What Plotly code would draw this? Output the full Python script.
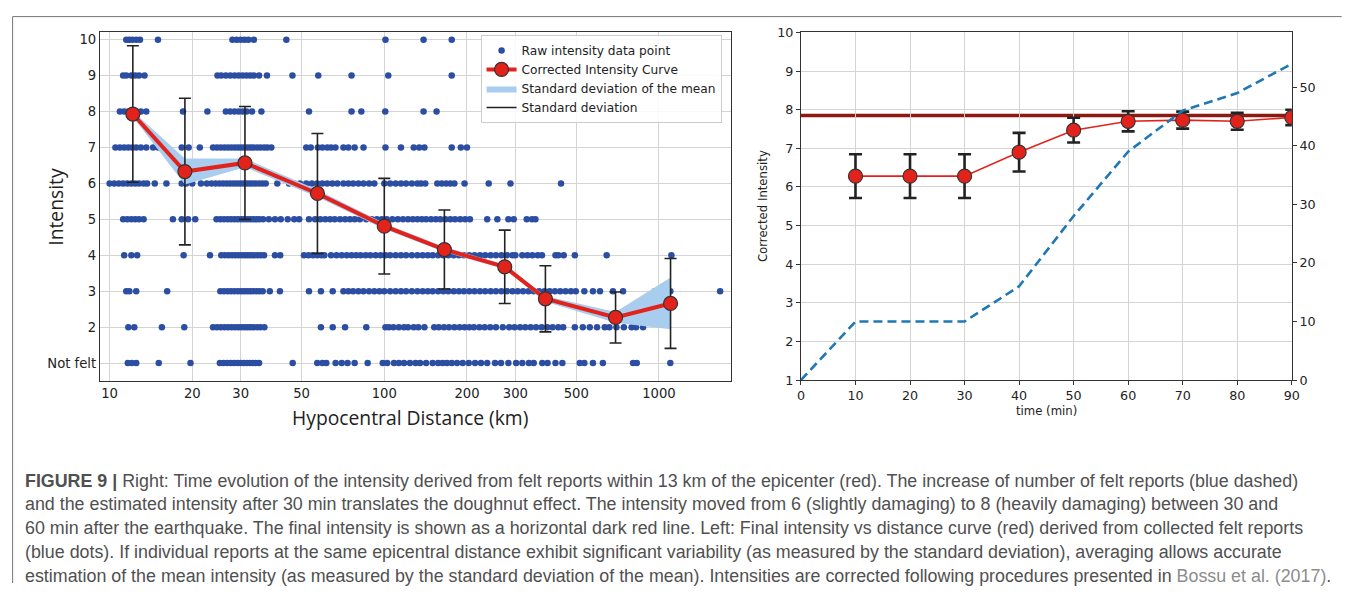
import numpy as np
import plotly.graph_objects as go

# figure size (the page keeps the browser's default 8px body margin)
PAGE_W, PAGE_H = 1357, 598
W, H = PAGE_W - 16, PAGE_H - 16
# measured placement of the rendered figure inside the photographed window
FIG_X0, FIG_SX = 9.0, 0.992
FIG_Y0, FIG_SY = 14.5, 0.978

# ---------------- Left panel data ----------------
# raw felt reports: hypocentral distance (km) per intensity level
d10 = [11.5, 11.8, 12.1, 12.5, 12.9, 15.0, 28, 29, 30, 31, 32, 33.5, 44, 101, 139, 176]
d9 = [11.2, 11.5, 12.0, 12.4, 12.8, 13.4, 24.7, 25.5, 26.5, 27.5, 28.5, 29.5, 30.5, 31.5, 32.5,
      33.5, 35, 37.4, 46.3, 57.5, 76, 103.4, 176]
d8 = [10.9, 11.3, 11.7, 12.1, 12.5, 13.0, 13.6, 18.5, 22.7, 26.5, 27.5, 28.5, 29.5, 30.5, 31.5,
      33, 35.7, 53.2, 76, 82.5, 100.8, 139, 155]
d7 = [10.5, 10.9, 11.3, 11.7, 12.1, 12.5, 13.0, 13.6, 14.4, 15.0, 18.3, 19.4, 21.3, 23.8, 24.6,
      25.4, 26.2, 27.0, 27.8, 28.6, 29.4, 30.2, 31, 31.8, 32.6, 33.4, 34.4, 35.4, 36.5, 37.5, 38.8,
      52, 54, 57.3, 59.5, 62, 64, 66.4, 71, 74, 78, 84, 101, 115, 128, 134, 140, 176, 190, 200]
d6 = [10.0, 10.4, 10.8, 11.2, 11.6, 12.0, 12.4, 12.8, 13.3, 13.7, 14.6, 16.1, 18.3, 19.0, 20.0,
      21.5, 22.6, 23.5, 24.3, 25.1, 25.9, 26.7, 27.5, 28.3, 29.1, 29.9, 30.7, 31.5, 32.3, 33.1, 34,
      35, 36, 37, 40.8, 45, 47, 49.3, 52, 54.5, 57, 59.5, 62, 64.7, 67.5, 71, 74, 77, 80.5, 84, 88,
      92, 100, 105, 110, 115, 120, 126, 132, 136, 141, 156, 162, 168, 174, 180, 196, 240, 288, 440]
d5 = [11.2, 11.6, 12.0, 12.4, 12.8, 13.3, 17.0, 18.3, 19.3, 20.5, 24.5, 25.3, 26.1, 26.9, 27.7,
      28.5, 29.3, 30.1, 30.9, 31.7, 32.5, 33.3, 34.2, 35.1, 36.2, 38, 40, 42, 44.5, 47, 49, 53.2,
      56, 58.5, 61, 63.5, 66, 69, 72, 75, 78, 81.5, 86, 90, 94, 98, 102, 107, 112, 117, 122, 127,
      132, 137, 142, 148, 154, 160, 167, 174, 181, 189, 197, 205, 237, 258, 283, 296, 330, 345, 355]
d4 = [11.3, 12.0, 12.6, 18.6, 23.2, 25.5, 26.3, 27.1, 27.9, 28.7, 29.5, 30.3, 31.1, 31.9, 32.7,
      33.5, 34.5, 35.5, 36.5, 40, 41.8, 51, 53, 55, 57, 59, 60.5, 64, 67, 70, 73, 76, 79, 82, 85.5,
      89, 93, 97, 101, 105, 110, 115, 120, 126, 132, 138, 144, 150, 157, 164, 171, 179, 187, 195,
      204, 213, 223, 233, 244, 255, 267, 280, 293, 300, 318, 332, 346, 362, 375, 420, 430, 450,
      494, 645, 1110]
d3 = [11.5, 11.8, 12.5, 16.2, 25.3, 26.1, 26.9, 27.7, 28.5, 29.3, 30.1, 30.9, 31.7, 32.5, 33.3,
      34.2, 35.1, 36.1, 38.3, 41.7, 53.2, 58.8, 64.9, 71, 74, 77, 80.5, 84, 88, 92, 96, 100, 105,
      110, 115, 120, 126, 132, 138, 144, 150, 157, 164, 171, 179, 187, 195, 204, 213, 223, 233,
      244, 255, 267, 280, 293, 306, 320, 335, 350, 366, 383, 400, 418, 437, 457, 478, 498, 535,
      575, 610, 680, 740, 965, 1100, 1670]
d2 = [11.7, 12.3, 15.5, 18.7, 23.8, 24.6, 25.4, 26.2, 27.0, 27.8, 28.6, 29.4, 30.2, 31, 31.8,
      32.6, 33.4, 34.4, 35.4, 36.6, 58.8, 64.9, 72, 86, 101, 104, 108, 113, 118, 122, 128, 133,
      140, 152, 158, 165, 172, 180, 188, 196, 204, 212, 222, 232, 243, 255, 270, 285, 298, 312,
      326, 341, 357, 374, 392, 410, 430, 448, 494, 528, 560, 595, 635, 660, 700, 745, 795, 825, 875]
d1 = [11.65, 12.05, 12.5, 15.1, 19.7, 25.2, 26.0, 26.8, 27.6, 28.4, 29.2, 30.0, 30.8, 31.6, 32.4,
      33.2, 34.0, 35.0, 46.4, 57, 59.5, 61.5, 66.5, 70, 73.5, 78, 87, 98.7, 102.5, 108.5, 113, 118,
      124, 130, 135, 142, 150, 157, 163, 169, 176, 184, 193, 203, 214, 225, 237, 253, 266, 283,
      302, 318, 336, 350, 376, 393, 420, 445, 515, 535, 575, 625, 805, 830, 1100]
raw_levels = [10, 9, 8, 7, 6, 5, 4, 3, 2, 1]
raw_lists = [d10, d9, d8, d7, d6, d5, d4, d3, d2, d1]

# corrected intensity curve
curve_dist = [12.15, 18.8, 31.1, 57.1, 100, 165.5, 274.5, 386, 695, 1102]
curve_mean = [7.93, 6.33, 6.57, 5.72, 4.81, 4.16, 3.68, 2.79, 2.27, 2.66]
curve_std = [1.90, 2.04, 1.57, 1.67, 1.33, 1.10, 1.02, 0.92, 0.71, 1.25]
curve_sem = [0.08, 0.36, 0.12, 0.10, 0.08, 0.07, 0.06, 0.08, 0.15, 0.72]

y_ticks_left = [1, 2, 3, 4, 5, 6, 7, 8, 9, 10]
y_ticktext_left = ["Not felt", "2", "3", "4", "5", "6", "7", "8", "9", "10"]
x_ticks_left = [10, 20, 30, 50, 100, 200, 300, 500, 1000]

# ---------------- Right panel data ----------------
t_int = [10, 20, 30, 40, 50, 60, 70, 80, 90]
int_val = [6.28, 6.28, 6.28, 6.90, 7.47, 7.70, 7.73, 7.70, 7.80]
int_err = [0.565, 0.565, 0.565, 0.50, 0.32, 0.26, 0.22, 0.22, 0.20]
t_cnt = [0, 10, 20, 30, 40, 50, 60, 70, 80, 90]
n_reports = [0, 10, 10, 10, 16, 28, 39, 46, 49, 54]
final_intensity = 7.85

# ---------------- styling ----------------
RAW_BLUE = "#2b4ea2"
RED = "#e3231b"
BAND = "#a9cdef"
GRID = "#d4d4d4"
AX = "#333333"
TICKFONT = "DejaVu Sans"


def px_x(t):
    """target window pixel -> paper fraction"""
    return ((t - FIG_X0) / FIG_SX) / W


def px_y(t):
    return 1 - ((t - FIG_Y0) / FIG_SY) / H


fig = go.Figure()

raw_x, raw_y = [], []
for lvl, lst in zip(raw_levels, raw_lists):
    raw_x += lst
    raw_y += [lvl] * len(lst)

fig.add_trace(go.Scatter(x=raw_x, y=raw_y, mode="markers", name="Raw intensity data point",
                         marker=dict(size=6.5, color=RAW_BLUE, line=dict(width=0)),
                         xaxis="x", yaxis="y", legendrank=1))

lower = [m - s for m, s in zip(curve_mean, curve_sem)]
upper = [m + s for m, s in zip(curve_mean, curve_sem)]
fig.add_trace(go.Scatter(x=curve_dist, y=lower, mode="lines", line=dict(width=0, color=BAND),
                         showlegend=False, hoverinfo="skip", xaxis="x", yaxis="y"))
fig.add_trace(go.Scatter(x=curve_dist, y=upper, mode="lines", line=dict(width=0, color=BAND),
                         fill="tonexty", fillcolor=BAND, name="Standard deviation of the mean",
                         xaxis="x", yaxis="y", legendrank=3))
fig.add_trace(go.Scatter(x=curve_dist, y=curve_mean, mode="lines+markers",
                         name="Corrected Intensity Curve",
                         line=dict(color=RED, width=4),
                         marker=dict(size=14, color=RED, line=dict(color="#333", width=1.2)),
                         error_y=dict(type="data", array=curve_std, color="#222",
                                      thickness=1.6, width=6),
                         xaxis="x", yaxis="y", legendrank=2))
fig.add_trace(go.Scatter(x=[None], y=[None], mode="lines", name="Standard deviation",
                         line=dict(color="#222", width=1.6), xaxis="x", yaxis="y",
                         legendrank=4))

# right panel
fig.add_trace(go.Scatter(x=t_cnt, y=n_reports, mode="lines", showlegend=False,
                         line=dict(color="#1f77b4", width=2.6, dash="9px,5px"),
                         xaxis="x2", yaxis="y3"))
fig.add_trace(go.Scatter(x=t_int, y=int_val, mode="lines+markers", showlegend=False,
                         line=dict(color=RED, width=1.6),
                         marker=dict(size=14, color=RED, line=dict(color="#333", width=1.2)),
                         error_y=dict(type="data", array=int_err, color="#222",
                                      thickness=2.6, width=6.5),
                         xaxis="x2", yaxis="y2"))

fig.add_shape(type="line", xref="x2 domain", x0=0, x1=1, yref="y2", y0=final_intensity,
              y1=final_intensity, line=dict(color="#8b1a12", width=3.5), layer="below")

# outer frame of the figure panel (left and top edges)
fig.add_shape(type="path", xref="paper", yref="paper",
              path=f"M {px_x(9.6)} 0 L {px_x(9.6)} {1 - 0.6 / H} L {px_x(1340)} {1 - 0.6 / H}",
              line=dict(color="#777", width=1))

tickfont = dict(family=TICKFONT, size=13.2, color="#222")
tickfont_r = dict(family=TICKFONT, size=12.7, color="#222")

fig.update_layout(
    width=W, height=H, margin=dict(l=0, r=0, t=0, b=0),
    paper_bgcolor="white", plot_bgcolor="white",
    xaxis=dict(domain=[px_x(97), px_x(729)], type="log",
               range=[np.log10(9.22), np.log10(1834)],
               tickvals=x_ticks_left, ticktext=[str(v) for v in x_ticks_left],
               showgrid=True, gridcolor=GRID, gridwidth=1, showline=True, linecolor=AX,
               linewidth=1.2, mirror=True, ticks="", tickfont=tickfont, anchor="y",
               zeroline=False),
    yaxis=dict(domain=[px_y(381), px_y(31)], range=[0.5, 10.2],
               tickvals=y_ticks_left, ticktext=y_ticktext_left,
               showgrid=True, gridcolor=GRID, gridwidth=1, showline=True, linecolor=AX,
               linewidth=1.2, mirror=True, ticks="", tickfont=tickfont, anchor="x",
               zeroline=False),
    xaxis2=dict(domain=[px_x(798.7), px_x(1290)], range=[0, 90], dtick=10, tick0=0,
                showgrid=True, gridcolor=GRID, gridwidth=1, showline=True, linecolor=AX,
                linewidth=1.2, mirror=True, ticks="outside", ticklen=4, tickcolor=AX,
                tickfont=tickfont_r, anchor="y2", zeroline=False),
    yaxis2=dict(domain=[px_y(380), px_y(31)], range=[1, 10], dtick=1, tick0=1,
                showgrid=True, gridcolor=GRID, gridwidth=1, showline=True, linecolor=AX,
                linewidth=1.2, ticks="outside", ticklen=4, tickcolor=AX,
                tickfont=tickfont_r, anchor="x2", zeroline=False),
    yaxis3=dict(domain=[px_y(380), px_y(31)], range=[0, 59.35], tickvals=[0, 10, 20, 30, 40, 50],
                overlaying="y2", side="right", anchor="x2", showgrid=False,
                showline=True, linecolor=AX, linewidth=1.2, ticks="outside", ticklen=4,
                tickcolor=AX, tickfont=tickfont_r, zeroline=False),
    legend=dict(x=px_x(478), y=px_y(33.5), xanchor="left", yanchor="top",
                bgcolor="rgba(255,255,255,0.85)", bordercolor="#cccccc", borderwidth=1,
                font=dict(family=TICKFONT, size=12.2, color="#222"), tracegroupgap=0,
                traceorder="normal", itemwidth=30),
    showlegend=True,
)

annotations = [
    dict(text="Intensity", x=px_x(53), y=px_y(206), textangle=-90,
         font=dict(family="Open Sans", size=19.3, color="#222")),
    dict(text="Hypocentral Distance (km)", x=px_x(407), y=px_y(418),
         font=dict(family="Open Sans", size=19.3, color="#222")),
    dict(text="Corrected Intensity", x=px_x(760), y=px_y(205), textangle=-90,
         font=dict(family=TICKFONT, size=11.7, color="#222")),
    dict(text="time (min)", x=px_x(1044), y=px_y(411),
         font=dict(family=TICKFONT, size=11.7, color="#222")),
]

caption_lines = [
    "<b>FIGURE 9 |</b> Right: Time evolution of the intensity derived from felt reports within 13 km of the epicenter (red). The increase of number of felt reports (blue dashed)",
    "and the estimated intensity after 30 min translates the doughnut effect. The intensity moved from 6 (slightly damaging) to 8 (heavily damaging) between 30 and",
    "60 min after the earthquake. The final intensity is shown as a horizontal dark red line. Left: Final intensity vs distance curve (red) derived from collected felt reports",
    "(blue dots). If individual reports at the same epicentral distance exhibit significant variability (as measured by the standard deviation), averaging allows accurate",
    "estimation of the mean intensity (as measured by the standard deviation of the mean). Intensities are corrected following procedures presented in <span style='color:#8c8c8c'>Bossu et al. (2017)</span>.",
]
caption_y = [481, 504.5, 528.5, 552.5, 576.5]
for line, yy in zip(caption_lines, caption_y):
    annotations.append(dict(text=line, x=px_x(20), y=px_y(yy), xanchor="left", yanchor="middle",
                            font=dict(family="Liberation Sans", size=17.85, color="#505050")))

for a in annotations:
    a.setdefault("xanchor", "center")
    a.setdefault("yanchor", "middle")
    a.update(xref="paper", yref="paper", showarrow=False)
fig.update_layout(annotations=annotations)

fig.write_html("out.html", config={"displayModeBar": False})
